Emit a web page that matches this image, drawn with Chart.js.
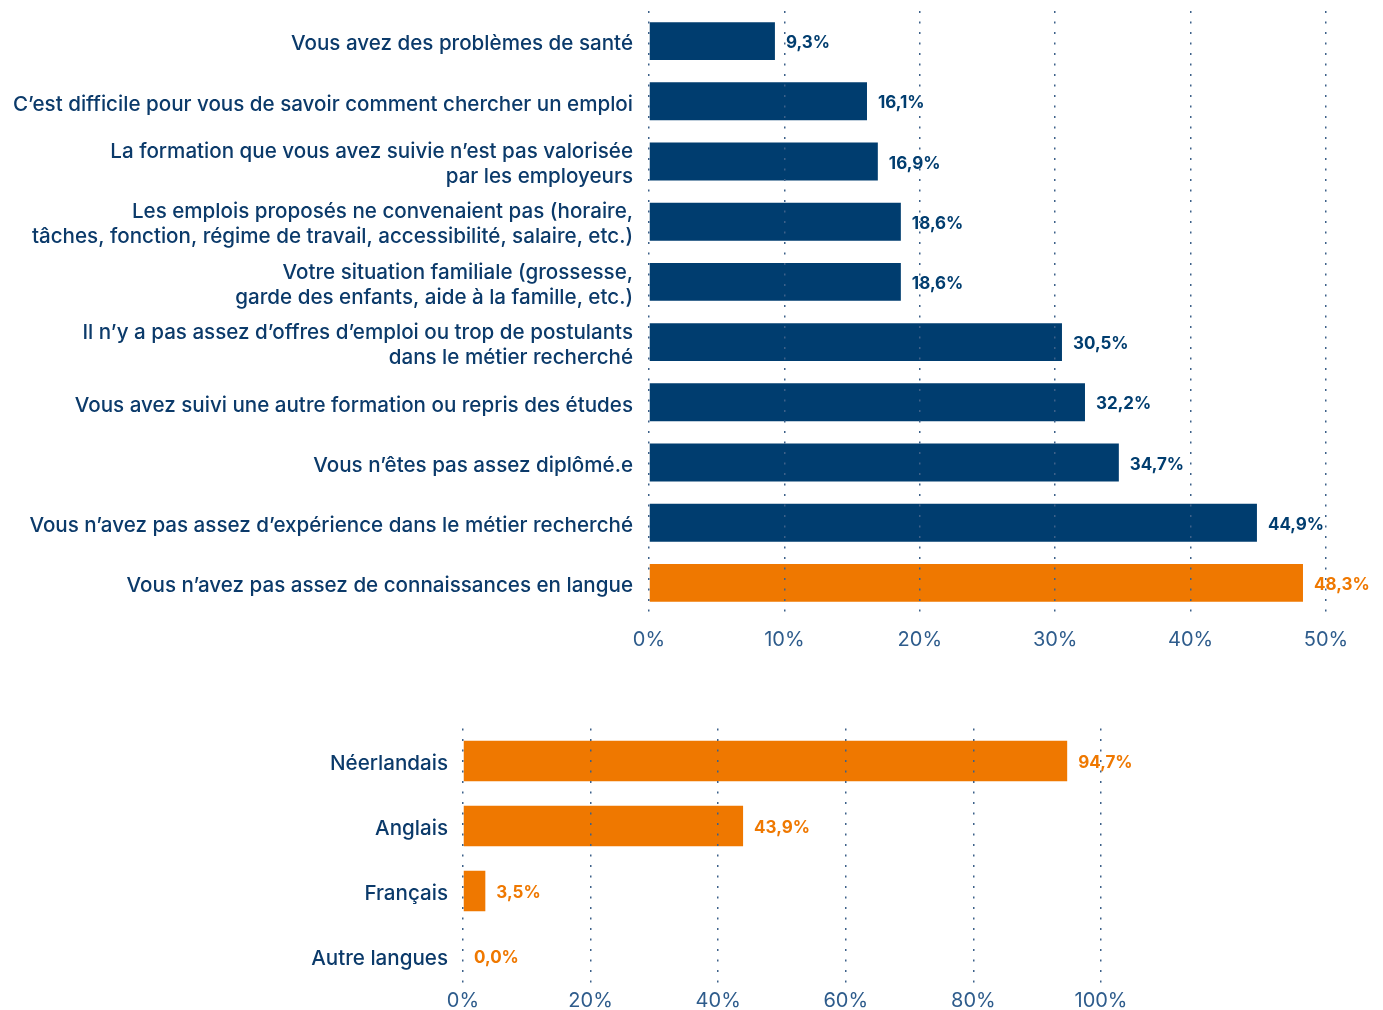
<!DOCTYPE html>
<html>
<head>
<meta charset="utf-8">
<script src="https://cdn.jsdelivr.net/npm/chart.js@4.4.0/dist/chart.umd.min.js"></script>
<style>
  body { margin: 0; background: #fff; }
  .box { position: absolute; left: 0; width: 1383px; }
  #topBox { top: 0; height: 660px; }
  #bottomBox { top: 690px; height: 320px; }
</style>
</head>
<body>
<div class="box" id="topBox"><canvas id="reasons"></canvas></div>
<div class="box" id="bottomBox"><canvas id="languages"></canvas></div>
<script>
const reasonLabels = [
  "Vous avez des problèmes de santé",
  "C’est difficile pour vous de savoir comment chercher un emploi",
  ["La formation que vous avez suivie n’est pas valorisée", "par les employeurs"],
  ["Les emplois proposés ne convenaient pas (horaire,", "tâches, fonction, régime de travail, accessibilité, salaire, etc.)"],
  ["Votre situation familiale (grossesse,", "garde des enfants, aide à la famille, etc.)"],
  ["Il n’y a pas assez d’offres d’emploi ou trop de postulants", "dans le métier recherché"],
  "Vous avez suivi une autre formation ou repris des études",
  "Vous n’êtes pas assez diplômé.e",
  "Vous n’avez pas assez d’expérience dans le métier recherché",
  "Vous n’avez pas assez de connaissances en langue"
];
const reasonValues = [9.3, 16.1, 16.9, 18.6, 18.6, 30.5, 32.2, 34.7, 44.9, 48.3];
const reasonTicks = [0, 10, 20, 30, 40, 50];

const languageLabels = ["Néerlandais", "Anglais", "Français", "Autre langues"];
const languageValues = [94.7, 43.9, 3.5, 0.0];
const languageTicks = [0, 20, 40, 60, 80, 100];

const NAVY = "#003d6f";
const ORANGE = "#ef7800";
const TEXT = "#0b3a6a";
const TICK = "#2e5c8c";
const GRID = "#3d6189";
const FONT = "Inter, 'Noto Sans', sans-serif";

const reasonColors = reasonValues.map((v, i) => i === reasonValues.length - 1 ? ORANGE : NAVY);
const languageColors = languageValues.map(() => ORANGE);

const fmt = v => v.toFixed(1).replace(".", ",") + "%";

const valueLabels = {
  id: "valueLabels",
  afterDatasetsDraw(chart) {
    const ctx = chart.ctx;
    const ds = chart.data.datasets[0];
    const meta = chart.getDatasetMeta(0);
    ctx.save();
    ctx.font = "bold 17px " + FONT;
    ctx.textBaseline = "middle";
    ctx.textAlign = "left";
    meta.data.forEach((bar, i) => {
      ctx.fillStyle = ds.backgroundColor[i];
      ctx.fillText(fmt(ds.data[i]), bar.x + 11, bar.y + 2);
    });
    ctx.restore();
  }
};

function makeChart(canvas, labels, values, colors, ticks, opts) {
  return new Chart(canvas, {
    type: "bar",
    data: {
      labels,
      datasets: [{
        data: values,
        backgroundColor: colors,
        borderWidth: 0,
        categoryPercentage: 1,
        barPercentage: opts.barPct
      }]
    },
    options: {
      indexAxis: "y",
      responsive: true,
      maintainAspectRatio: false,
      animation: false,
      layout: { padding: { top: opts.top, right: opts.right, bottom: 0, left: 0 } },
      plugins: { legend: { display: false }, tooltip: { enabled: false } },
      scales: {
        x: {
          min: 0,
          max: ticks[ticks.length - 1],
          afterBuildTicks: scale => { scale.ticks = ticks.map(v => ({ value: v })); },
          afterFit: scale => {
            scale.height = opts.xHeight;
            scale.paddingLeft = 0;
            scale.paddingRight = 0;
          },
          ticks: {
            callback: v => v + "%",
            color: TICK,
            font: { family: FONT, size: 20 },
            padding: opts.tickPad,
            maxRotation: 0
          },
          grid: {
            color: GRID,
            lineWidth: 1.5,
            drawTicks: false,
            z: 1,
            borderDash: [2, 8.5]
          },
          border: { display: false, dash: [2, 8.5] }
        },
        y: {
          afterFit: scale => {
            scale.width = opts.left;
            scale.paddingTop = 0;
            scale.paddingBottom = 0;
          },
          ticks: {
            color: TEXT,
            font: { family: FONT, size: 20.6, weight: 500, lineHeight: 1.22 },
            padding: opts.labelPad,
            labelOffset: 3
          },
          grid: { display: false },
          border: { display: false }
        }
      }
    },
    plugins: [valueLabels]
  });
}

Chart.defaults.font.family = FONT;

makeChart(document.getElementById("reasons"), reasonLabels, reasonValues, reasonColors, reasonTicks, {
  barPct: 0.63, top: 11, right: 57, xHeight: 47, tickPad: 15, left: 649, labelPad: 8
});

makeChart(document.getElementById("languages"), languageLabels, languageValues, languageColors, languageTicks, {
  barPct: 0.62, top: 38.5, right: 282, xHeight: 21.5, tickPad: 0, left: 463, labelPad: 7
});
</script>
</body>
</html>
